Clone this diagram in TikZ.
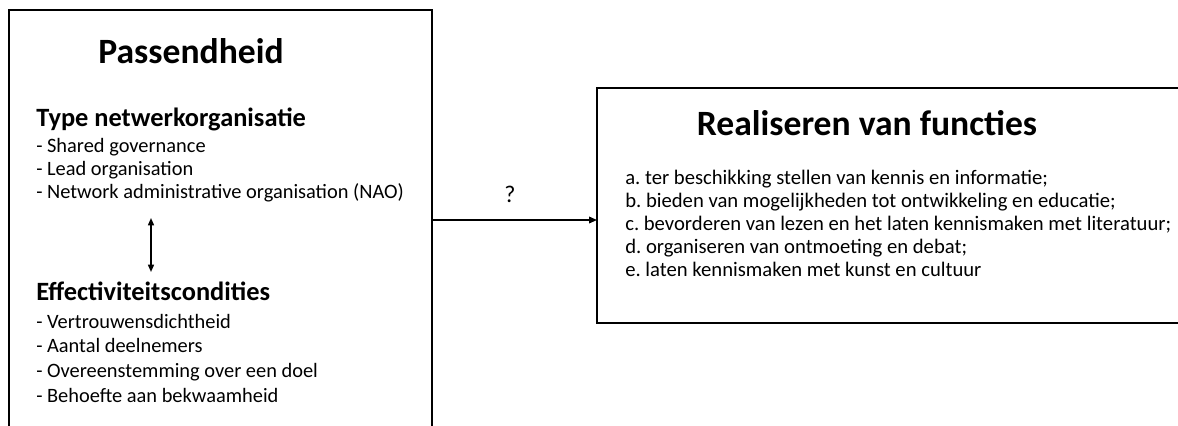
\documentclass[tikz,border=0pt]{standalone}
\usepackage{fontspec}
\setmainfont{Carlito}
\usetikzlibrary{arrows.meta}
\frenchspacing
\tikzset{
  title/.style={font=\bfseries\fontsize{26.7}{30}\selectfont, anchor=base, inner sep=0pt},
  heading/.style={font=\bfseries\fontsize{19.8}{22}\selectfont, anchor=base west, inner sep=0pt},
  item/.style={font=\fontsize{15.3}{18}\selectfont, anchor=base west, inner sep=0pt, align=left},
  fitem/.style={item, font=\fontsize{15.5}{18}\selectfont},
  frame/.style={line width=1.4pt},
  conn/.style={line width=1.1pt, -{Triangle[length=6pt,width=5pt]}},
  biconn/.style={line width=1.1pt, {Triangle[length=5.5pt,width=4.5pt]}-{Triangle[length=5.5pt,width=4.5pt]}}
}
\begin{document}
\begin{tikzpicture}[x=0.75pt,y=-0.75pt]
\useasboundingbox (0,0) rectangle (1178,425);
\clip (0,0) rectangle (1178,425);
% boxes
\draw[frame] (9,440) rectangle (432,10);
\coordinate (L) at (432,220);
\coordinate (R) at (597,220);
\draw[frame] (597,88) rectangle (1195,323);
% left box text
\node[title] (t1) at (191,63) {Passendheid};
\node[heading] (h1) at (36,126) {Type netwerkorganisatie};
\node[item] (i1) at (36,152) {- Shared governance};
\node[item] (i2) at (36,175) {- Lead organisation};
\node[item] (i3) at (36,198) {- Network administrative organisation (NAO)};
\node[heading] (h2) at (36,300) {Effectiviteitscondities};
\node[item] (i4) at (36,328) {- Vertrouwensdichtheid};
\node[item] (i5) at (36,352) {- Aantal deelnemers};
\node[item] (i6) at (36,377) {- Overeenstemming over een doel};
\node[item] (i7) at (36,402) {- Behoefte aan bekwaamheid};
\coordinate (u) at (151,218);
\coordinate (d) at (151,272);
\draw[biconn] (u) -- (d);
% right box text
\node[title] (t2) at (867,135) {Realiseren van functies};
\node[fitem] (f1) at (625,184) {a. ter beschikking stellen van kennis en informatie;};
\node[fitem] (f2) at (625,207) {b. bieden van mogelijkheden tot ontwikkeling en educatie;};
\node[fitem] (f3) at (625,230) {c. bevorderen van lezen en het laten kennismaken met literatuur;};
\node[fitem] (f4) at (625,253) {d. organiseren van ontmoeting en debat;};
\node[fitem] (f5) at (625,276) {e. laten kennismaken met kunst en cultuur};
% connector
\draw[conn] (L) -- (R);
\node[item, anchor=base, font=\fontsize{18}{20}\selectfont] (q) at (510,202) {?};
\end{tikzpicture}
\end{document}
